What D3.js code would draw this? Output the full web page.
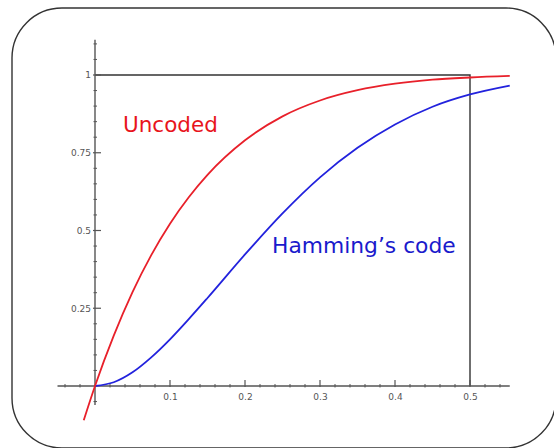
<!DOCTYPE html>
<html>
<head>
<meta charset="utf-8">
<script src="https://cdn.jsdelivr.net/npm/d3@7"></script>
<style>
  html, body { margin: 0; padding: 0; background: #fff; }
  svg { display: block; }
  .tick text { font-family: "DejaVu Sans", Verdana, sans-serif; fill: #555; }
</style>
</head>
<body>
<div id="container"></div>
<script>
// bit error probability p on x, block error probability on y
const pValues = [-0.015, 0, 0.025, 0.05, 0.075, 0.1, 0.125, 0.15, 0.2, 0.25, 0.3, 0.35, 0.4, 0.45, 0.5, 0.553];
const uncoded = [-0.11, 0, 0.162, 0.302, 0.421, 0.522, 0.607, 0.679, 0.790, 0.867, 0.918, 0.951, 0.972, 0.985, 0.992, 0.997];
const hamming = [null, 0, 0.012, 0.044, 0.092, 0.150, 0.215, 0.283, 0.423, 0.555, 0.671, 0.766, 0.841, 0.898, 0.9375, 0.966];

const xMajor = [0.1, 0.2, 0.3, 0.4, 0.5];
const yMajor = [0.25, 0.5, 0.75, 1];
const xMinor = d3.range(-0.04, 0.553, 0.02).filter(v => Math.abs(Math.round(v * 10) / 10 - v) > 1e-6);
const yMinor = d3.range(-0.05, 1.11, 0.05).filter(v => Math.abs(Math.round(v * 4) / 4 - v) > 1e-6);

const width = 554;
const height = 448;

const x = d3.scaleLinear().domain([0, 0.5]).range([95, 470]);
const y = d3.scaleLinear().domain([0, 1]).range([386, 75]);

const svg = d3.create("svg")
    .attr("width", width)
    .attr("height", height);

// rounded frame
svg.append("rect")
    .attr("x", 12)
    .attr("y", 8)
    .attr("width", 544)
    .attr("height", 440)
    .attr("rx", 50)
    .attr("fill", "none")
    .attr("stroke", "#333")
    .attr("stroke-width", 1.4);

const axisColor = "#555";

// box at p = 0.5, P = 1
svg.append("path")
    .attr("d", `M${x(0)},${y(1)}H${x(0.5)}V${y(0)}`)
    .attr("fill", "none")
    .attr("stroke", "#333")
    .attr("stroke-width", 1.4);

// x axis
svg.append("line")
    .attr("x1", x(-0.05)).attr("x2", x(0.553))
    .attr("y1", y(0)).attr("y2", y(0))
    .attr("stroke", axisColor).attr("stroke-width", 1.4);
svg.append("g")
    .selectAll("line")
    .data(xMinor)
    .join("line")
    .attr("x1", d => x(d)).attr("x2", d => x(d))
    .attr("y1", y(0) - 2).attr("y2", y(0) + 1.5)
    .attr("stroke", axisColor);
const xAxis = svg.append("g")
    .attr("transform", `translate(0,${y(0)})`)
    .call(d3.axisBottom(x).tickValues(xMajor).tickSize(0).tickPadding(8).tickFormat(d3.format("")));
xAxis.select(".domain").remove();
xAxis.selectAll("text").style("font-size", "9px");
svg.append("g")
    .selectAll("line")
    .data(xMajor)
    .join("line")
    .attr("x1", d => x(d)).attr("x2", d => x(d))
    .attr("y1", y(0) - 6).attr("y2", y(0) + 1)
    .attr("stroke", axisColor).attr("stroke-width", 1.2);

// y axis
svg.append("line")
    .attr("x1", x(0)).attr("x2", x(0))
    .attr("y1", y(-0.061)).attr("y2", y(1.113))
    .attr("stroke", axisColor).attr("stroke-width", 1.4);
svg.append("g")
    .selectAll("line")
    .data(yMinor)
    .join("line")
    .attr("x1", x(0) - 1.5).attr("x2", x(0) + 2)
    .attr("y1", d => y(d)).attr("y2", d => y(d))
    .attr("stroke", axisColor);
const yAxis = svg.append("g")
    .attr("transform", `translate(${x(0)},0)`)
    .call(d3.axisLeft(y).tickValues(yMajor).tickSize(0).tickPadding(4).tickFormat(d3.format("")));
yAxis.select(".domain").remove();
yAxis.selectAll("text").style("font-size", "9px");
svg.append("g")
    .selectAll("line")
    .data(yMajor)
    .join("line")
    .attr("x1", x(0) - 2).attr("x2", x(0) + 6)
    .attr("y1", d => y(d)).attr("y2", d => y(d))
    .attr("stroke", axisColor).attr("stroke-width", 1.2);

// curves
const line = d3.line()
    .defined(d => d[1] !== null)
    .x(d => x(d[0]))
    .y(d => y(d[1]))
    .curve(d3.curveMonotoneX);

svg.append("path")
    .datum(pValues.map((p, i) => [p, hamming[i]]))
    .attr("d", line)
    .attr("fill", "none")
    .attr("stroke", "#2222dd")
    .attr("stroke-width", 1.8);

svg.append("path")
    .datum(pValues.map((p, i) => [p, uncoded[i]]))
    .attr("d", line)
    .attr("fill", "none")
    .attr("stroke", "#e8202a")
    .attr("stroke-width", 1.8);

// labels
svg.append("text")
    .attr("x", 123)
    .attr("y", 132)
    .attr("fill", "#e8141c")
    .style("font-family", "'DejaVu Sans', Verdana, sans-serif")
    .style("font-size", "21.5px")
    .text("Uncoded");

svg.append("text")
    .attr("x", 272)
    .attr("y", 253)
    .attr("fill", "#1a1acc")
    .style("font-family", "'DejaVu Sans', Verdana, sans-serif")
    .style("font-size", "21.8px")
    .text("Hamming’s code");

d3.select("#container").append(() => svg.node());
</script>
</body>
</html>
